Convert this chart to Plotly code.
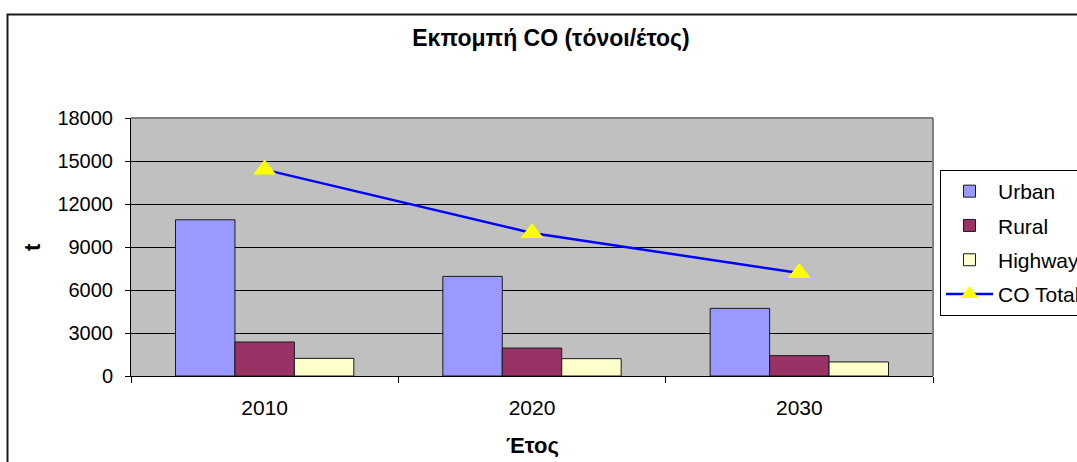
import plotly.graph_objects as go

years = ["2010", "2020", "2030"]
urban = [10900, 6950, 4720]
rural = [2370, 1950, 1420]
highway = [1230, 1210, 980]
co_total = [14400, 9980, 7180]

FONT = "Liberation Sans, Arial, sans-serif"

# plot area in pixels: x 131..933, y 118..376
PL, PR, PT, PB = 131, 933, 118, 376
PW, PH = PR - PL, PB - PT


def px(x):
    return (x - PL) / PW


def py(y):
    return (PB - y) / PH


fig = go.Figure()
fig.add_trace(go.Bar(x=years, y=urban, name="Urban", legendgroup="a",
                     marker=dict(color="#9999FF", line=dict(color="#1a1a1a", width=1))))
fig.add_trace(go.Bar(x=years, y=rural, name="Rural", legendgroup="b",
                     marker=dict(color="#993366", line=dict(color="#1a1a1a", width=1))))
fig.add_trace(go.Bar(x=years, y=highway, name="Highway", legendgroup="c",
                     marker=dict(color="#FFFFCC", line=dict(color="#1a1a1a", width=1))))
fig.add_trace(go.Scatter(x=years, y=co_total, name="CO Total", legendgroup="d",
                         mode="lines+markers",
                         line=dict(color="#0000FF", width=2.5),
                         marker=dict(symbol="triangle-up", size=20, color="#FFFF00",
                                     line=dict(width=0))))

fig.update_layout(
    width=1077, height=462,
    margin=dict(l=PL, r=1077 - PR, t=PT, b=462 - PB, autoexpand=False),
    paper_bgcolor="white",
    plot_bgcolor="#C0C0C0",
    font=dict(family=FONT, color="black", size=20),
    barmode="group",
    bargap=0.333,
    bargroupgap=0,
    title=dict(text="<b>Εκπομπή CO (τόνοι/έτος)</b>", x=551 / 1077, xref="container",
               xanchor="center", y=1 - 38 / 462, yref="container", yanchor="middle",
               font=dict(size=23, family=FONT)),
    showlegend=True,
    legend=dict(x=px(940), y=py(170), xanchor="left", yanchor="top",
                bordercolor="black", borderwidth=1, bgcolor="white",
                font=dict(size=21, family=FONT),
                traceorder="grouped", tracegroupgap=4, itemwidth=47),
    xaxis=dict(type="category", tickson="boundaries", ticks="outside", ticklen=6,
               tickcolor="black", showline=True, linecolor="black", linewidth=1,
               showgrid=False, tickfont=dict(size=21), ticklabelstandoff=13,
               automargin=False),
    yaxis=dict(range=[0, 18000], dtick=3000, tick0=0, tickformat="d",
               ticks="outside", ticklen=5,
               tickcolor="black", showline=True, linecolor="black", linewidth=1,
               showgrid=True, gridcolor="black", gridwidth=1, zeroline=False,
               tickfont=dict(size=20), ticklabelstandoff=8, automargin=False),
    annotations=[
        dict(text="<b>t</b>", xref="paper", yref="paper", x=px(32), y=0.5,
             textangle=-90, showarrow=False, xanchor="center", yanchor="middle",
             font=dict(size=22, family=FONT)),
        dict(text="<b>Έτος</b>", xref="paper", yref="paper", x=0.5, y=py(445),
             showarrow=False, xanchor="center", yanchor="middle",
             font=dict(size=22, family=FONT)),
    ],
    shapes=[
        dict(type="rect", xref="paper", yref="paper", x0=px(7.5), x1=1.4,
             y0=-0.6, y1=py(14.5), line=dict(color="#1a1a1a", width=2), layer="below"),
        dict(type="line", xref="paper", yref="paper", x0=0, x1=1, y0=1, y1=1,
             line=dict(color="#808080", width=2), layer="above"),
        dict(type="line", xref="paper", yref="paper", x0=1, x1=1, y0=0, y1=1,
             line=dict(color="#808080", width=2), layer="above"),
    ],
)

fig.write_html(
    "out.html",
    config={"displayModeBar": False},
    post_script="document.body.style.margin='0';document.body.style.overflow='hidden';",
)
